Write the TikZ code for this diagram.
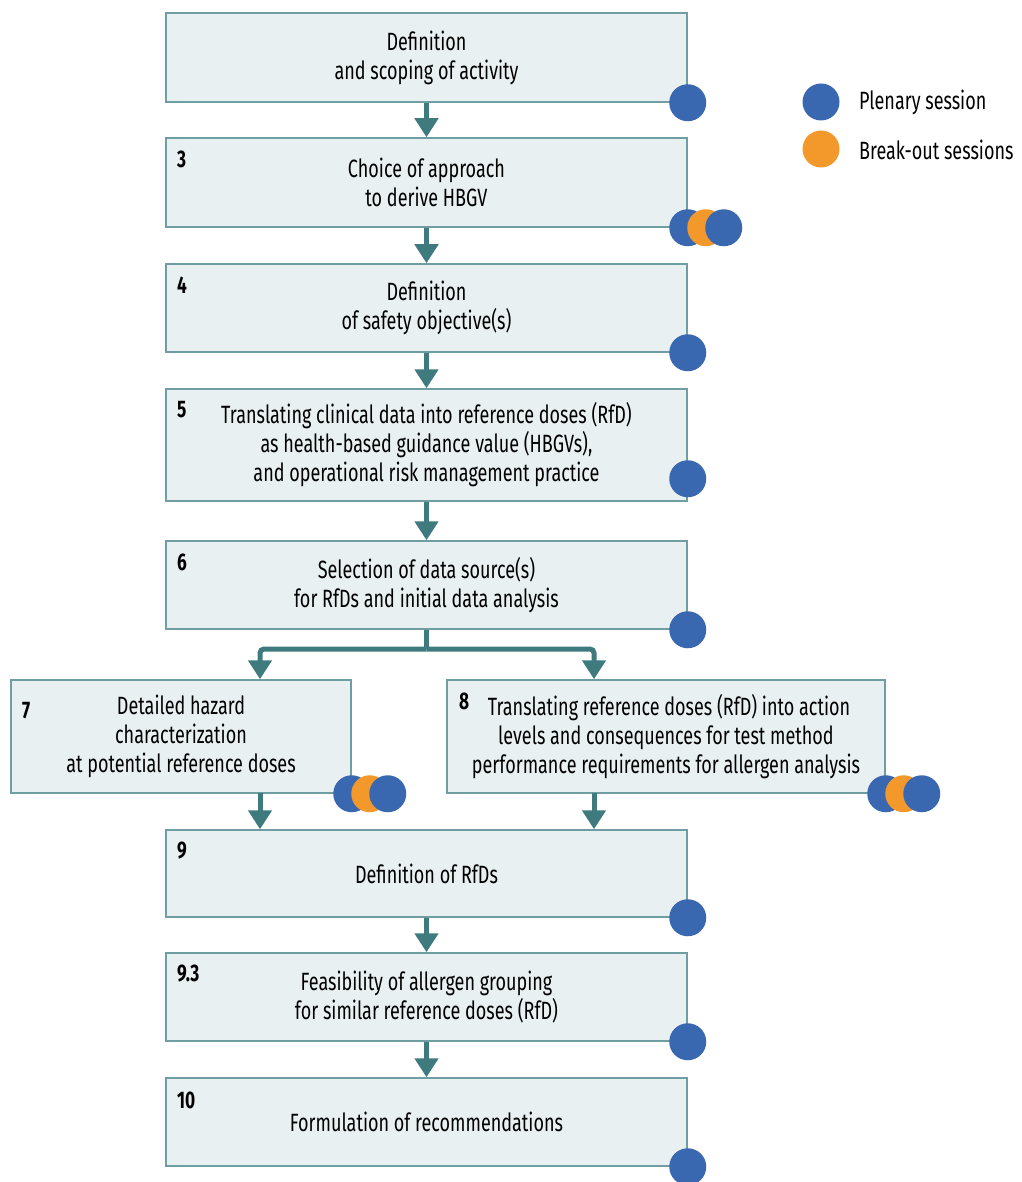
\documentclass[tikz,border=0pt]{standalone}
\usepackage{fontspec}
\setmainfont[FakeStretch=0.72]{Fira Sans}
\usetikzlibrary{arrows.meta}
\definecolor{boxfill}{HTML}{E8F0F2}
\definecolor{boxline}{HTML}{6E9EA2}
\definecolor{arrowc}{HTML}{3E7A7E}
\definecolor{dotblue}{HTML}{3A68B0}
\definecolor{dotorange}{HTML}{F3992B}
\begin{document}
\begin{tikzpicture}[x=1pt,y=-1pt,
  stagebox/.style={draw=boxline, line width=1.5pt, fill=boxfill, align=center, inner sep=0pt,
    font=\fontsize{25}{29}\selectfont},
  num/.style={anchor=west, inner sep=0pt, font=\fontsize{24}{26}\selectfont\bfseries},
  bdot/.style={circle, fill=dotblue, minimum size=37pt, inner sep=0pt},
  odot/.style={circle, fill=dotorange, minimum size=37pt, inner sep=0pt},
  flow/.style={draw=arrowc, line width=5pt, -{Triangle[width=23pt,length=19pt]}, arrowc},
  legtext/.style={anchor=west, inner sep=0pt, font=\fontsize{25}{29}\selectfont}
]
\useasboundingbox (0,0) rectangle (1021,1182);

% boxes
\node[stagebox, minimum width=521pt, minimum height=89pt] (b1) at (426.5,57.5) {Definition\\and scoping of activity};
\node[stagebox, minimum width=521pt, minimum height=89pt] (b3) at (426.5,182.5) {Choice of approach\\to derive HBGV};
\node[stagebox, minimum width=521pt, minimum height=88pt] (b4) at (426.5,308) {Definition\\of safety objective(s)};
\node[stagebox, minimum width=521pt, minimum height=112pt] (b5) at (426.5,445) {Translating clinical data into reference doses (RfD)\\as health-based guidance value (HBGVs),\\and operational risk management practice};
\node[stagebox, minimum width=521pt, minimum height=88pt] (b6) at (426.5,585) {Selection of data source(s)\\for RfDs and initial data analysis};
\node[stagebox, minimum width=340pt, minimum height=113pt] (b7) at (181,736.5) {Detailed hazard\\characterization\\at potential reference doses};
\node[stagebox, minimum width=438pt, minimum height=113pt] (b8) at (666,736.5) {\hspace*{6pt}Translating reference doses (RfD) into action\\levels and consequences for test method\\performance requirements for allergen analysis};
\node[stagebox, minimum width=521pt, minimum height=87pt] (b9) at (426.5,873.5) {Definition of RfDs};
\node[stagebox, minimum width=521pt, minimum height=88pt] (b93) at (426.5,997) {Feasibility of allergen grouping\\for similar reference doses (RfD)};
\node[stagebox, minimum width=521pt, minimum height=88pt] (b10) at (426.5,1122) {Formulation of recommendations};

% numbers
\node[num] (n3) at (177,159) {3};
\node[num] (n4) at (177,285) {4};
\node[num] (n5) at (177,410) {5};
\node[num] (n6) at (177,562) {6};
\node[num] (n7) at (22,711) {7};
\node[num] (n8) at (459,701) {8};
\node[num] (n9) at (177,851) {9};
\node[num] (n93) at (177,974) {9.3};
\node[num] (n10) at (177,1100) {10};

% arrows
\draw[flow] (b1.south) -- (b3.north);
\draw[flow] (b3.south) -- (b4.north);
\draw[flow] (b4.south) -- (b5.north);
\draw[flow] (b5.south) -- (b6.north);
\coordinate (split) at (426.5,649);
\draw[draw=arrowc, line width=5pt] (b6.south) -- (split);
\draw[flow, rounded corners=4pt] (split) -| (b7.north -| 260,0);
\draw[flow, rounded corners=4pt] (split) -| (b8.north -| 594,0);
\coordinate (t7) at (260,793);
\coordinate (t8) at (594,793);
\draw[flow] (t7) -- (b9.north -| t7);
\draw[flow] (t8) -- (b9.north -| t8);
\draw[flow] (b9.south) -- (b93.north);
\draw[flow] (b93.south) -- (b10.north);

% session dots
\node[bdot] (d1) at (b1.south east) {};
\node[bdot] (d3a) at (b3.south east) {};
\node[odot] (d3b) at ([xshift=18pt]d3a.center) {};
\node[bdot] (d3c) at ([xshift=36pt]d3a.center) {};
\node[bdot] (d4) at (b4.south east) {};
\node[bdot] (d5) at ([yshift=23pt]b5.south east) {};
\node[bdot] (d6) at (b6.south east) {};
\node[bdot] (d7a) at (b7.south east) {};
\node[odot] (d7b) at ([xshift=18pt]d7a.center) {};
\node[bdot] (d7c) at ([xshift=36pt]d7a.center) {};
\node[bdot] (d8a) at (b8.south east) {};
\node[odot] (d8b) at ([xshift=18pt]d8a.center) {};
\node[bdot] (d8c) at ([xshift=36pt]d8a.center) {};
\node[bdot] (d9) at (b9.south east) {};
\node[bdot] (d93) at (b93.south east) {};
\node[bdot] (d10) at (b10.south east) {};

% legend
\node[bdot] (lb) at (821,102) {};
\node[odot] (lo) at (821,149) {};
\node[legtext] (lbt) at (859,102) {Plenary session};
\node[legtext] (lot) at (859,150) {Break-out sessions};
\end{tikzpicture}
\end{document}
